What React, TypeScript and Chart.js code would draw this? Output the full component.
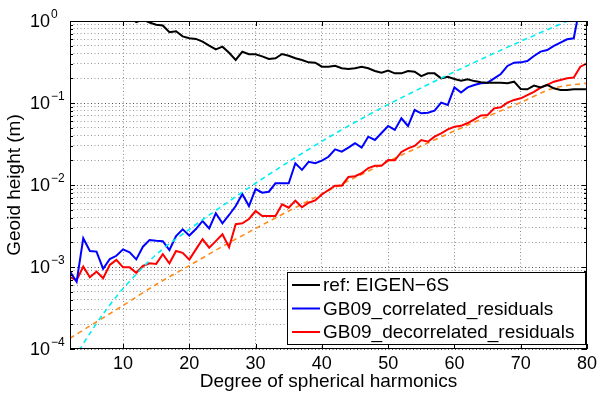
import { useEffect, useRef } from 'react';
import { Chart, registerables } from 'chart.js';

Chart.register(...registerables);

const FONT = '"Liberation Sans", Arial, Helvetica, sans-serif';

// Degrees of spherical harmonics (x categories)
const degrees = [
  2, 3, 4, 5, 6, 7, 8, 9, 10, 11,
  12, 13, 14, 15, 16, 17, 18, 19, 20, 21,
  22, 23, 24, 25, 26, 27, 28, 29, 30, 31,
  32, 33, 34, 35, 36, 37, 38, 39, 40, 41,
  42, 43, 44, 45, 46, 47, 48, 49, 50, 51,
  52, 53, 54, 55, 56, 57, 58, 59, 60, 61,
  62, 63, 64, 65, 66, 67, 68, 69, 70, 71,
  72, 73, 74, 75, 76, 77, 78, 79, 80,
];

// ref: EIGEN-6S geoid height per degree (m)
const refEigen6S = [
  25, 12, 7, 4.5, 3.3, 2.5, 2.0, 1.6, 1.35, 1.12,
  0.97, 1.04, 0.96, 0.9, 0.88, 0.73, 0.75, 0.65, 0.615, 0.605,
  0.56, 0.5, 0.45, 0.486, 0.41, 0.335, 0.422, 0.393, 0.393, 0.37,
  0.344, 0.351, 0.396, 0.377, 0.351, 0.335, 0.313, 0.31, 0.277, 0.277,
  0.285, 0.265, 0.26, 0.265, 0.277, 0.265, 0.246, 0.234, 0.248, 0.23,
  0.23, 0.246, 0.241, 0.213, 0.23, 0.23, 0.2, 0.209, 0.196, 0.187,
  0.195, 0.185, 0.179, 0.177, 0.177, 0.177, 0.174, 0.182, 0.148, 0.147,
  0.163, 0.155, 0.166, 0.151, 0.144, 0.144, 0.147, 0.147, 0.147,
];

// GB09_correlated_residuals (m)
const gb09Correlated = [
  8.8e-4, 6.6e-4, 2.24e-3, 1.57e-3, 1.54e-3, 9.5e-4, 1.25e-3, 1.37e-3, 1.64e-3, 1.51e-3,
  1.24e-3, 1.77e-3, 2.13e-3, 2.09e-3, 2.06e-3, 1.61e-3, 2.39e-3, 2.88e-3, 2.42e-3, 2.9e-3,
  3.64e-3, 2.96e-3, 4.52e-3, 3.41e-3, 4.31e-3, 5.54e-3, 7.77e-3, 5.54e-3, 8.93e-3, 8.05e-3,
  8.28e-3, 0.0105, 0.0105, 0.0105, 0.0184, 0.0153, 0.0192, 0.0184, 0.0198, 0.0221,
  0.0272, 0.0255, 0.0285, 0.0323, 0.0285, 0.0388, 0.0354, 0.0431, 0.0524, 0.0469,
  0.065, 0.0524, 0.0822, 0.0749, 0.0762, 0.0805, 0.101, 0.0946, 0.155, 0.134,
  0.155, 0.166, 0.174, 0.177, 0.2, 0.226, 0.283, 0.31, 0.313, 0.325,
  0.374, 0.423, 0.443, 0.496, 0.544, 0.598, 0.615, 1.6, 1.9,
];

// GB09_decorrelated_residuals (m)
const gb09Decorrelated = [
  7.5e-4, 6.9e-4, 1.01e-3, 7.5e-4, 8.8e-4, 7.3e-4, 1.06e-3, 1.22e-3, 9.9e-4, 9.9e-4,
  8.5e-4, 1.03e-3, 1.11e-3, 1.09e-3, 1.43e-3, 1.11e-3, 1.57e-3, 1.49e-3, 1.23e-3, 1.64e-3,
  2.18e-3, 1.72e-3, 2.07e-3, 2.51e-3, 1.74e-3, 3.32e-3, 3.41e-3, 3.85e-3, 4.82e-3, 4.19e-3,
  4.19e-3, 4.19e-3, 5.82e-3, 5.29e-3, 6.44e-3, 5.35e-3, 6.08e-3, 6.5e-3, 7.66e-3, 8.69e-3,
  9.8e-3, 9.8e-3, 0.0125, 0.0128, 0.0139, 0.0161, 0.0172, 0.0172, 0.0202, 0.02,
  0.0253, 0.028, 0.0299, 0.0354, 0.0337, 0.0388, 0.0427, 0.0478, 0.0514, 0.0527,
  0.057, 0.063, 0.0705, 0.0714, 0.0861, 0.0887, 0.101, 0.109, 0.114, 0.125,
  0.137, 0.154, 0.166, 0.182, 0.191, 0.2, 0.204, 0.277, 0.305,
];

// Dashed model curves (no legend entry)
const cyanModelDegrees = [2, 3, 5, 7, 10, 15, 20, 25, 30, 35, 40, 45, 50, 55, 60, 65, 70, 75, 80];
const cyanModelValues = [
  6.2e-5, 8.6e-5, 1.55e-4, 2.67e-4, 5.46e-4, 1.42e-3, 2.88e-3, 5.57e-3, 0.0105, 0.0192,
  0.0341, 0.0582, 0.0959, 0.153, 0.24, 0.371, 0.565, 0.849, 1.26,
];
const orangeModelDegrees = [2, 5, 10, 15, 20, 25, 30, 35, 40, 45, 50, 55, 60, 65, 70, 75, 80];
const orangeModelValues = [
  1.35e-4, 1.91e-4, 3.39e-4, 6.12e-4, 1.04e-3, 1.78e-3, 2.95e-3, 4.82e-3, 7.77e-3, 0.0123,
  0.0194, 0.0299, 0.0456, 0.0685, 0.1014, 0.152, 0.175,
];

const xTickValues = [10, 20, 30, 40, 50, 60, 70, 80];
const yDecades = [1e-4, 1e-3, 1e-2, 1e-1, 1];
const yMinorMultipliers = [2, 3, 4, 5, 6, 7, 8, 9];

const seriesLabels = ['ref: EIGEN\u22126S', 'GB09_correlated_residuals', 'GB09_decorrelated_residuals'];
const seriesColors = ['#000000', '#0000ff', '#ff0000'];
const modelColors = ['#00eef5', '#ff8c1a'];
const xTitle = 'Degree of spherical harmonics';
const yTitle = 'Geoid height (m)';

const yTickValues: number[] = [];
yDecades.forEach((d, i) => {
  yTickValues.push(d);
  if (i < yDecades.length - 1) yMinorMultipliers.forEach((m) => yTickValues.push(d * m));
});
const isDecade = (v: number) => Math.abs(Math.log10(v) - Math.round(Math.log10(v))) < 1e-9;

const framePlugin = {
  id: 'matlabFrame',
  afterDraw(chart: any) {
    const { ctx, chartArea: a, scales } = chart;
    const xs = scales.x;
    const ys = scales.y;
    ctx.save();
    ctx.strokeStyle = '#000';
    ctx.lineWidth = 1;
    ctx.setLineDash([]);
    // box
    ctx.strokeRect(a.left + 0.5, a.top + 0.5, a.right - a.left - 1, a.bottom - a.top - 1);
    // x ticks (inward, bottom and top)
    ctx.beginPath();
    xTickValues.forEach((v) => {
      const px = Math.round(xs.getPixelForValue(v)) + 0.5;
      ctx.moveTo(px, a.bottom);
      ctx.lineTo(px, a.bottom - 5);
      ctx.moveTo(px, a.top);
      ctx.lineTo(px, a.top + 5);
    });
    // y ticks (inward, left and right)
    yTickValues.forEach((v) => {
      const py = Math.round(ys.getPixelForValue(v)) + 0.5;
      const len = isDecade(v) ? 5 : 3;
      ctx.moveTo(a.left, py);
      ctx.lineTo(a.left + len, py);
      ctx.moveTo(a.right, py);
      ctx.lineTo(a.right - len, py);
    });
    ctx.stroke();

    // y tick labels as 10^n with superscript
    ctx.fillStyle = '#000';
    ctx.textAlign = 'left';
    ctx.textBaseline = 'middle';
    yDecades.forEach((v) => {
      const py = ys.getPixelForValue(v);
      const exp = Math.round(Math.log10(v));
      ctx.font = `18px ${FONT}`;
      const baseX = 30;
      ctx.fillText('10', baseX, py + 1);
      const w = ctx.measureText('10').width;
      ctx.font = `12px ${FONT}`;
      ctx.fillText(exp < 0 ? '\u2212' + String(-exp) : String(exp), baseX + w + 1, py - 6);
    });

    // legend
    const lx = 287;
    const ly = 272;
    const lw = 299;
    const lh = 73;
    ctx.fillStyle = '#fff';
    ctx.fillRect(lx, ly, lw, lh);
    ctx.strokeStyle = '#000';
    ctx.lineWidth = 1;
    ctx.strokeRect(lx + 0.5, ly + 0.5, lw - 1, lh - 1);
    const rowYs = [285, 308.5, 332];
    chart.data.datasets.slice(0, 3).forEach((ds: any, i: number) => {
      const y = rowYs[i];
      ctx.strokeStyle = ds.borderColor;
      ctx.lineWidth = 2;
      ctx.beginPath();
      ctx.moveTo(292, y);
      ctx.lineTo(320, y);
      ctx.stroke();
      ctx.fillStyle = '#000';
      ctx.font = `19px ${FONT}`;
      ctx.textBaseline = 'middle';
      ctx.fillText(ds.label, 323, y + 1);
    });
    ctx.restore();
  },
};

export default function App() {
  const canvasRef = useRef<HTMLCanvasElement | null>(null);

  useEffect(() => {
    if (!canvasRef.current) return;
    Chart.defaults.font.family = FONT;
    const mk = (xs: number[], ys: number[]) => xs.map((x, i) => ({ x, y: ys[i] }));
    const chart = new Chart(canvasRef.current, {
      type: 'line',
      data: {
        datasets: [
          {
            label: seriesLabels[0],
            data: mk(degrees, refEigen6S),
            borderColor: seriesColors[0],
            borderWidth: 2,
            pointRadius: 0,
            tension: 0,
            order: 2,
          },
          {
            label: seriesLabels[1],
            data: mk(degrees, gb09Correlated),
            borderColor: seriesColors[1],
            borderWidth: 2,
            pointRadius: 0,
            tension: 0,
            order: 3,
          },
          {
            label: seriesLabels[2],
            data: mk(degrees, gb09Decorrelated),
            borderColor: seriesColors[2],
            borderWidth: 2,
            pointRadius: 0,
            tension: 0,
            order: 4,
          },
          {
            label: 'model A',
            data: mk(cyanModelDegrees, cyanModelValues),
            borderColor: modelColors[0],
            borderWidth: 1.6,
            borderDash: [5, 4],
            pointRadius: 0,
            tension: 0.3,
            order: 1,
          },
          {
            label: 'model B',
            data: mk(orangeModelDegrees, orangeModelValues),
            borderColor: modelColors[1],
            borderWidth: 1.6,
            borderDash: [5, 4],
            pointRadius: 0,
            tension: 0.3,
            order: 5,
          },
        ],
      },
      options: {
        animation: false,
        responsive: false,
        devicePixelRatio: 1,
        layout: { padding: { top: 21, right: 11, left: 0, bottom: 0 } },
        plugins: { legend: { display: false }, tooltip: { enabled: false } },
        scales: {
          x: {
            type: 'linear',
            min: 2,
            max: 80,
            afterBuildTicks: (s: any) => {
              s.ticks = xTickValues.map((v) => ({ value: v }));
            },
            afterFit: (s: any) => {
              s.height = 45;
            },
            ticks: {
              autoSkip: false,
              maxRotation: 0,
              padding: 4,
              color: '#000',
              font: { size: 18, family: FONT },
            },
            grid: { drawTicks: false, color: 'rgba(0,0,0,0.45)', lineWidth: 1 },
            border: { display: false, dash: [1, 2.5] },
            title: {
              display: true,
              text: xTitle,
              color: '#000',
              font: { size: 19, family: FONT },
              padding: { top: 0, bottom: 1 },
            },
          },
          y: {
            type: 'logarithmic',
            min: 1e-4,
            max: 1,
            afterBuildTicks: (s: any) => {
              s.ticks = yTickValues.map((v) => ({ value: v }));
            },
            afterFit: (s: any) => {
              s.width = 70;
            },
            ticks: { display: false },
            grid: {
              drawTicks: false,
              lineWidth: 1,
              color: (c: any) => (c.tick && isDecade(c.tick.value) ? 'rgba(0,0,0,0.7)' : 'rgba(0,0,0,0.4)'),
            },
            border: { display: false, dash: [1, 2.5] },
            title: {
              display: true,
              text: yTitle,
              color: '#000',
              font: { size: 19, family: FONT },
              padding: { top: 3, bottom: 0 },
            },
          },
        },
      },
      plugins: [framePlugin],
    });
    return () => chart.destroy();
  }, []);

  return (
    <div style={{ position: 'fixed', left: 0, top: 0, width: 601, height: 394, background: '#fff' }}>
      <canvas ref={canvasRef} width={601} height={394} style={{ display: 'block' }} />
    </div>
  );
}
